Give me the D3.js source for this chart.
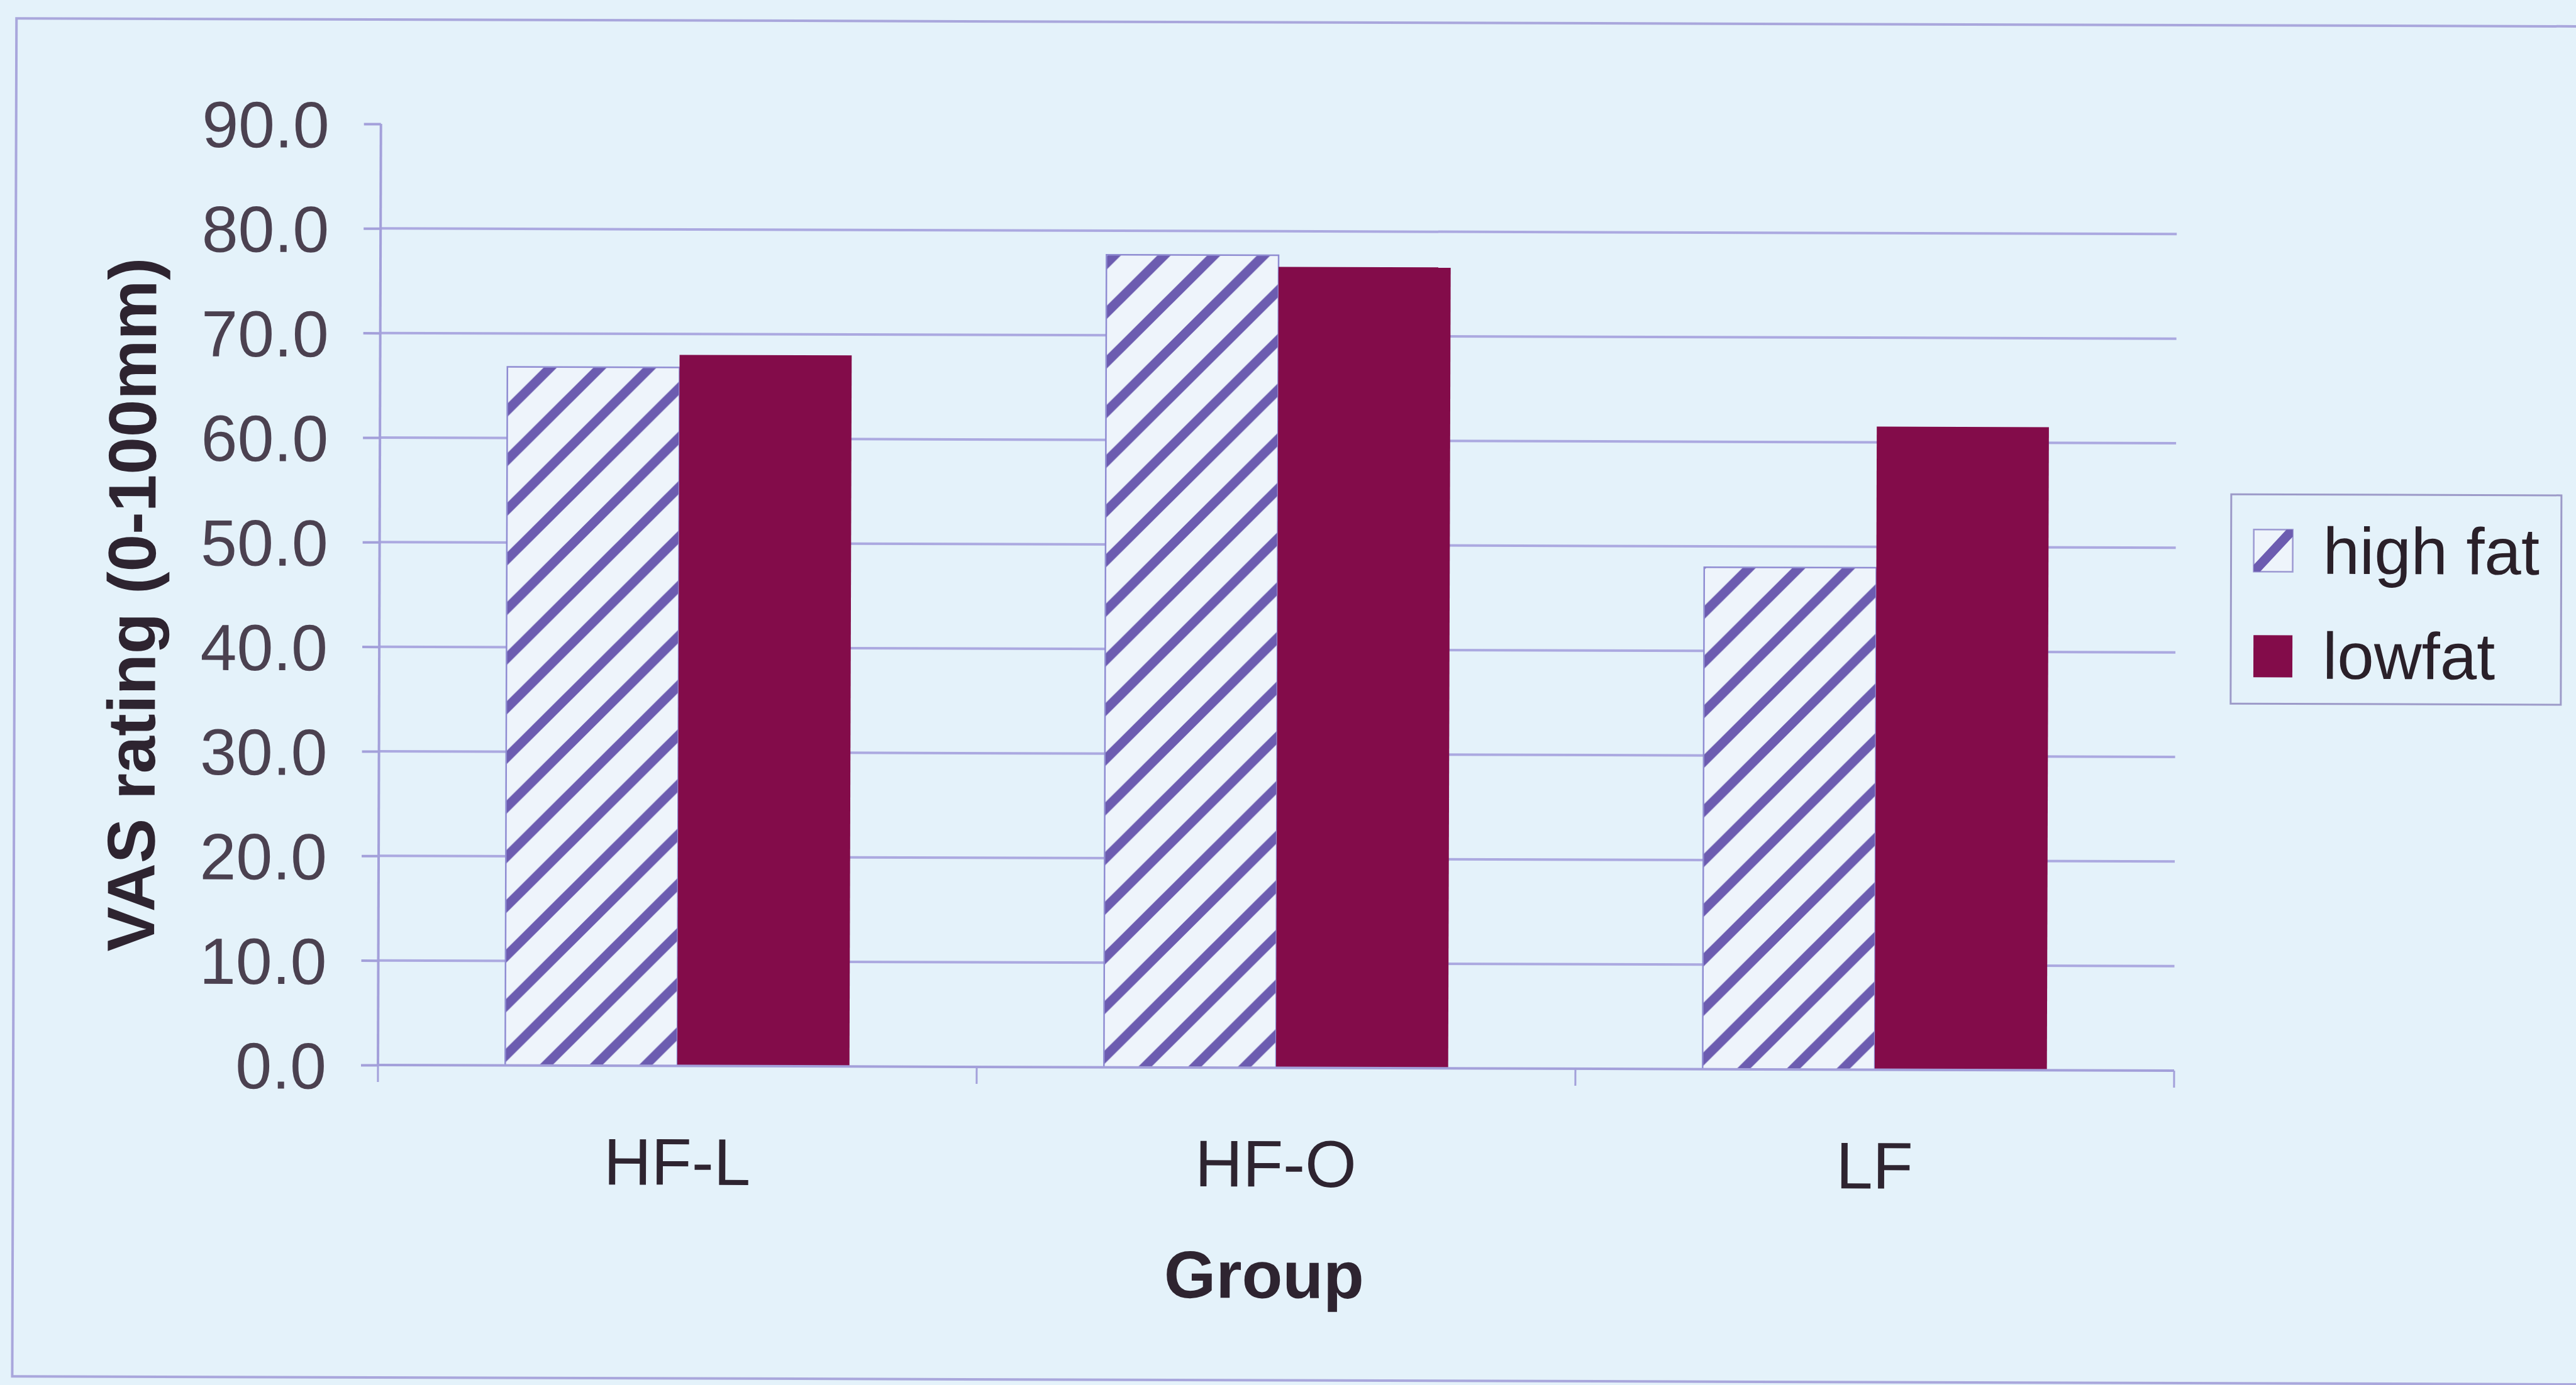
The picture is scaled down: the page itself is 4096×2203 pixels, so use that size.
<!DOCTYPE html>
<html>
<head>
<meta charset="utf-8">
<script src="https://cdn.jsdelivr.net/npm/d3@7"></script>
<style>
  html, body { margin: 0; padding: 0; background: #e4f2fa; }
  svg { display: block; }
  text { font-family: "Liberation Sans", Arial, sans-serif; }
</style>
</head>
<body>
<svg id="chart" width="4096" height="2203"></svg>
<script>
// Mean VAS ratings per group for the high-fat and low-fat items
const categories = ["HF-L", "HF-O", "LF"];
const seriesNames = ["high fat", "lowfat"];
const highFat = [66.8, 77.7, 48.0];
const lowFat = [68.0, 76.6, 61.5];
const yTickValues = [0, 10, 20, 30, 40, 50, 60, 70, 80, 90];
const yMax = 90;

const W = 4096, H = 2203;
const bg = "#e4f2fa";
const gridColor = "#aba9e0";
const axisColor = "#a3a0da";
const hatchColor = "#6c5cb0";
const hatchBg = "#eef4fb";
const lowColor = "#830c4a";
const tickTextColor = "#4b4150";
const titleColor = "#2e2430";

const plot = { left: 601, right: 3457, top: 197, bottom: 1694 };

const svg = d3.select("#chart");
svg.append("rect").attr("width", W).attr("height", H).attr("fill", bg);

const defs = svg.append("defs");
const pat = defs.append("pattern")
  .attr("id", "hatch")
  .attr("patternUnits", "userSpaceOnUse")
  .attr("width", 79).attr("height", 79)
  .attr("x", 20).attr("y", 0);
pat.append("rect").attr("width", 79).attr("height", 79).attr("fill", hatchBg);
pat.append("path")
  .attr("d", "M-20,20 L20,-20 M0,79 L79,0 M59,99 L99,59")
  .attr("stroke", hatchColor).attr("stroke-width", 15);

// the whole page sits very slightly tilted
const g = svg.append("g").attr("transform", `rotate(0.18, ${plot.left}, ${plot.bottom})`);

// outer frame
g.append("rect")
  .attr("x", 21).attr("y", 31)
  .attr("width", 4300).attr("height", 2160)
  .attr("fill", "none").attr("stroke", "#a9a7dc").attr("stroke-width", 4);

const x0 = d3.scaleBand()
  .domain(categories)
  .range([plot.left, plot.right])
  .paddingInner(0.425)
  .paddingOuter(0.2125);

const x1 = d3.scaleBand()
  .domain(seriesNames)
  .range([0, x0.bandwidth()])
  .padding(0);

const y = d3.scaleLinear().domain([0, yMax]).range([plot.bottom, plot.top]);

// horizontal gridlines
g.append("g").selectAll("line")
  .data(yTickValues.filter(v => v > 0 && v < yMax))
  .join("line")
  .attr("x1", plot.left).attr("x2", plot.right)
  .attr("y1", d => y(d)).attr("y2", d => y(d))
  .attr("stroke", gridColor).attr("stroke-width", 4);

// bars
const rows = categories.map((c, i) => ({ cat: c, values: [
  { key: "high fat", value: highFat[i] },
  { key: "lowfat", value: lowFat[i] }
]}));

const groups = g.append("g").selectAll("g")
  .data(rows)
  .join("g")
  .attr("transform", d => `translate(${x0(d.cat)},0)`);

groups.selectAll("rect")
  .data(d => d.values)
  .join("rect")
  .attr("x", d => x1(d.key))
  .attr("y", d => y(d.value))
  .attr("width", x1.bandwidth())
  .attr("height", d => y(0) - y(d.value))
  .attr("fill", d => d.key === "high fat" ? "url(#hatch)" : lowColor)
  .attr("stroke", d => d.key === "high fat" ? "#8f8cd2" : "none")
  .attr("stroke-width", 2.5);

// y axis
const yAxis = d3.axisLeft(y)
  .tickValues(yTickValues)
  .tickFormat(d3.format(".1f"))
  .tickSize(27)
  .tickPadding(55);

const yAxisG = g.append("g")
  .attr("transform", `translate(${plot.left},0)`)
  .call(yAxis);
yAxisG.select(".domain").attr("stroke", axisColor).attr("stroke-width", 4)
  .attr("d", `M0,${plot.top}V${plot.bottom}`);
yAxisG.selectAll(".tick line").attr("stroke", axisColor).attr("stroke-width", 4);
yAxisG.selectAll(".tick text")
  .attr("fill", tickTextColor)
  .attr("font-size", 104)
  .attr("dy", "0.36em");

// x axis: category labels plus boundary ticks
const xAxis = d3.axisBottom(x0).tickSize(0).tickPadding(0);
const xAxisG = g.append("g")
  .attr("transform", `translate(0,${plot.bottom})`)
  .call(xAxis);
xAxisG.select(".domain").attr("stroke", axisColor).attr("stroke-width", 4)
  .attr("d", `M${plot.left},0H${plot.right}`);
xAxisG.selectAll(".tick text")
  .attr("fill", titleColor)
  .attr("font-size", 105)
  .attr("y", 189)
  .attr("dy", 0);

const step = x0.step();
const boundaries = d3.range(categories.length + 1).map(i => plot.left + i * step);
xAxisG.append("g").selectAll("line")
  .data(boundaries)
  .join("line")
  .attr("x1", d => d).attr("x2", d => d)
  .attr("y1", 0).attr("y2", 27)
  .attr("stroke", axisColor).attr("stroke-width", 3);

// axis titles
g.append("text")
  .attr("x", 2011).attr("y", 2060)
  .attr("text-anchor", "middle")
  .attr("font-size", 106).attr("font-weight", "bold")
  .attr("fill", titleColor)
  .text("Group");

g.append("text")
  .attr("transform", "translate(206,963) rotate(-90)")
  .attr("text-anchor", "middle")
  .attr("dy", "0.36em")
  .attr("font-size", 107).attr("font-weight", "bold")
  .attr("fill", titleColor)
  .text("VAS rating (0-100mm)");

// legend
const legend = g.append("g");
legend.append("rect")
  .attr("x", 3545).attr("y", 777)
  .attr("width", 525).attr("height", 333)
  .attr("fill", bg).attr("stroke", "#9c9ac8").attr("stroke-width", 3);

const legendItems = [
  { name: seriesNames[0], sy: 833, base: 903 },
  { name: seriesNames[1], sy: 1001, base: 1070 }
];
const sw = 62, sh = 67, sx = 3581;

defs.append("clipPath").attr("id", "swclip")
  .append("rect").attr("x", sx).attr("y", legendItems[0].sy).attr("width", sw).attr("height", sh);

legendItems.forEach((it, i) => {
  if (i === 0) {
    legend.append("rect")
      .attr("x", sx).attr("y", it.sy).attr("width", sw).attr("height", sh)
      .attr("fill", hatchBg).attr("stroke", "#9c99d2").attr("stroke-width", 2.5);
    legend.append("line")
      .attr("clip-path", "url(#swclip)")
      .attr("x1", sx).attr("y1", it.sy + sh)
      .attr("x2", sx + sw).attr("y2", it.sy)
      .attr("stroke", hatchColor).attr("stroke-width", 15);
  } else {
    legend.append("rect")
      .attr("x", sx).attr("y", it.sy).attr("width", sw).attr("height", sh)
      .attr("fill", lowColor);
  }
  legend.append("text")
    .attr("x", 3691).attr("y", it.base)
    .attr("font-size", 105)
    .attr("fill", "#2a2029")
    .text(it.name);
});
</script>
</body>
</html>
